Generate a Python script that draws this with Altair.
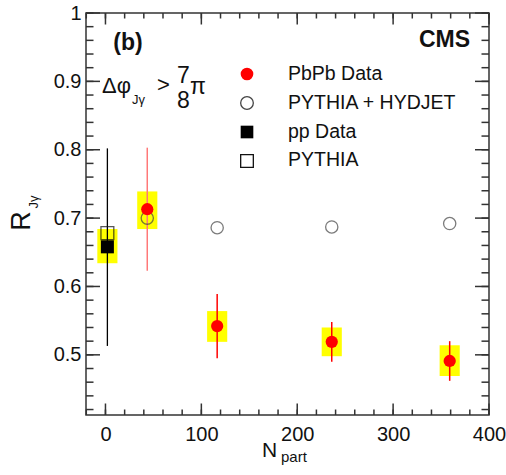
import altair as alt
import pandas as pd

# ---------------- data ----------------
pbpb_npart = [43.6, 116.5, 236.0, 359.0]
pbpb_r = [0.713, 0.542, 0.519, 0.491]
pbpb_stat_lo = [0.623, 0.495, 0.490, 0.462]
pbpb_stat_hi = [0.803, 0.589, 0.548, 0.520]
pbpb_sys_lo = [0.684, 0.519, 0.498, 0.469]
pbpb_sys_hi = [0.739, 0.564, 0.540, 0.514]
pbpb_err_color = ["#ff7878", "#ff0000", "#ff0000", "#ff0000"]
hydjet_r = [0.700, 0.686, 0.687, 0.692]

pp_npart = [2.0]
pp_r = [0.658]
pp_stat_lo = [0.513]
pp_stat_hi = [0.802]
pp_sys_lo = [0.634]
pp_sys_hi = [0.684]
pythia_r = [0.678]

sys_halfwidth = 10.5

x_major = [0, 100, 200, 300, 400]
x_minor = list(range(-20, 401, 20))
y_major = [0.5, 0.6, 0.7, 0.8, 0.9, 1.0]
y_minor = [round(0.42 + 0.02 * i, 2) for i in range(30)]

legend_labels = ["PbPb Data", "PYTHIA + HYDJET", "pp Data", "PYTHIA"]

W, H = 403, 402
XDOM = [-20.3, 400]
YDOM = [0.412, 1.0]
FONT = "Liberation Sans"

# ---------------- frames ----------------
pbpb = pd.DataFrame({
    "x": pbpb_npart, "r": pbpb_r, "lo": pbpb_stat_lo, "hi": pbpb_stat_hi,
    "slo": pbpb_sys_lo, "shi": pbpb_sys_hi, "c": pbpb_err_color, "hyd": hydjet_r,
})
pbpb["x0"] = pbpb["x"] - sys_halfwidth
pbpb["x1"] = pbpb["x"] + sys_halfwidth
pp = pd.DataFrame({
    "x": pp_npart, "r": pp_r, "lo": pp_stat_lo, "hi": pp_stat_hi,
    "slo": pp_sys_lo, "shi": pp_sys_hi, "py": pythia_r,
})
pp["x0"] = pp["x"] - sys_halfwidth
pp["x1"] = pp["x"] + sys_halfwidth

xs = alt.Scale(domain=XDOM, nice=False, zero=False)
ys = alt.Scale(domain=YDOM, nice=False, zero=False)

x_axis = alt.Axis(values=x_major, ticks=False, domain=False, grid=False,
                  labelFont=FONT, labelFontSize=20, labelColor="#111", labelPadding=9,
                  labelFlush=False, title=None)
y_axis = alt.Axis(values=y_major, ticks=False, domain=False, grid=False,
                  labelFont=FONT, labelFontSize=20, labelColor="#111", labelPadding=5,
                  labelFlush=False, title=None,
                  labelExpr="datum.value == 1 ? '1' : format(datum.value, '.1f')")

X = lambda f: alt.X(f, type="quantitative", scale=xs, axis=x_axis)
Y = lambda f: alt.Y(f, type="quantitative", scale=ys, axis=y_axis)

base_pb = alt.Chart(pbpb)
base_pp = alt.Chart(pp)

# tick marks inside the frame
tick_color = "#333"
def xticks(vals, ln):
    d = pd.DataFrame({"v": vals})
    b = alt.Chart(d).mark_rule(color=tick_color, strokeWidth=1.5)
    return (b.encode(x=X("v"), y=alt.value(H), y2=alt.value(H - ln)) +
            b.encode(x=X("v"), y=alt.value(0), y2=alt.value(ln)))
def yticks(vals, ln):
    d = pd.DataFrame({"v": vals})
    b = alt.Chart(d).mark_rule(color=tick_color, strokeWidth=1.5)
    return (b.encode(y=Y("v"), x=alt.value(0), x2=alt.value(ln)) +
            b.encode(y=Y("v"), x=alt.value(W), x2=alt.value(W - ln)))

ticks = xticks(x_minor, 5.5) + xticks(x_major, 11.5) + yticks(y_minor, 7.5) + yticks(y_major, 14)

# systematic boxes
box_pb = base_pb.mark_rect(color="#ffff00").encode(x=X("x0"), x2="x1", y=Y("slo"), y2="shi")
box_pp = base_pp.mark_rect(color="#ffff00").encode(x=X("x0"), x2="x1", y=Y("slo"), y2="shi")

# stat error bars
err_pb = base_pb.mark_rule(strokeWidth=1.5).encode(
    x=X("x"), y=Y("lo"), y2="hi", color=alt.Color("c:N", scale=None))
err_pp = base_pp.mark_rule(strokeWidth=1.3, color="#000").encode(x=X("x"), y=Y("lo"), y2="hi")

# markers
hyd = base_pb.mark_point(shape="circle", filled=False, size=150, color="#444", strokeWidth=1.3).encode(x=X("x"), y=Y("hyd"))
pyt = base_pp.mark_point(shape="square", filled=False, size=165, color="#111", strokeWidth=1.3).encode(x=X("x"), y=Y("py"))
ppd = base_pp.mark_point(shape="square", filled=True, size=170, color="#000", opacity=1).encode(x=X("x"), y=Y("r"))
pbd = base_pb.mark_point(shape="circle", filled=True, size=150, color="#ff0000", opacity=1).encode(x=X("x"), y=Y("r"))

# legend
leg = pd.DataFrame({"label": legend_labels, "i": [0, 1, 2, 3]})
leg["ym"] = 61 + 29 * leg["i"]
leg["yt"] = 67 + 28.8 * leg["i"]
leg_text = alt.Chart(leg).mark_text(align="left", baseline="alphabetic", font=FONT, fontSize=19.5, color="#111").encode(
    x=alt.value(202), y=alt.Y("yt:Q", scale=None, axis=None), text="label:N")
leg_m = []
shapes = [("circle", True, "#ff0000"), ("circle", False, "#444"),
          ("square", True, "#000"), ("square", False, "#111")]
for i, (shp, filled, col) in enumerate(shapes):
    d = leg[leg["i"] == i]
    leg_m.append(alt.Chart(d).mark_point(shape=shp, filled=filled, color=col, size=160,
                                         strokeWidth=1.3, opacity=1).encode(
        x=alt.value(161), y=alt.Y("ym:Q", scale=None, axis=None)))

def txt(s, x, y, size, weight="normal", align="left", angle=None, baseline="alphabetic"):
    kw = dict(align=align, baseline=baseline, font=FONT, fontSize=size, fontWeight=weight, color="#111")
    if angle is not None:
        kw["angle"] = angle
    return alt.Chart(pd.DataFrame({"t": [s]})).mark_text(**kw).encode(
        x=alt.value(x), y=alt.value(y), text="t:N")

annots = [
    txt("(b)", 42, 37, 23, "bold", "center"),
    txt("CMS", 384, 33.5, 23, "bold", "right"),
    txt("Δφ", 16, 80, 22),
    txt("Jγ", 46, 91, 13),
    txt(">", 71, 79, 22),
    txt("7", 97.5, 70, 23, align="center"),
    txt("8", 97.5, 95, 23, align="center"),
    txt("π", 104, 81, 23),
    # axis titles
    txt("R", -64, 208, 27, align="center", angle=270, baseline="middle"),
    txt("Jγ", -52, 189, 13, align="center", angle=270, baseline="middle"),
    txt("N", 176, 444, 21),
    txt("part", 195, 449, 15),
]

chart = alt.layer(
    box_pp, box_pb, err_pp, err_pb, hyd, pyt, ppd, pbd,
    ticks, leg_text, *leg_m, *annots,
).properties(
    width=W, height=H,
    autosize=alt.AutoSizeParams(type="none"),
    padding={"left": 86, "top": 13, "right": 17, "bottom": 60},
    background="white",
).configure_view(stroke="#333", strokeWidth=1.5)

chart.save("out.html", embed_options={"renderer": "svg", "actions": False})
